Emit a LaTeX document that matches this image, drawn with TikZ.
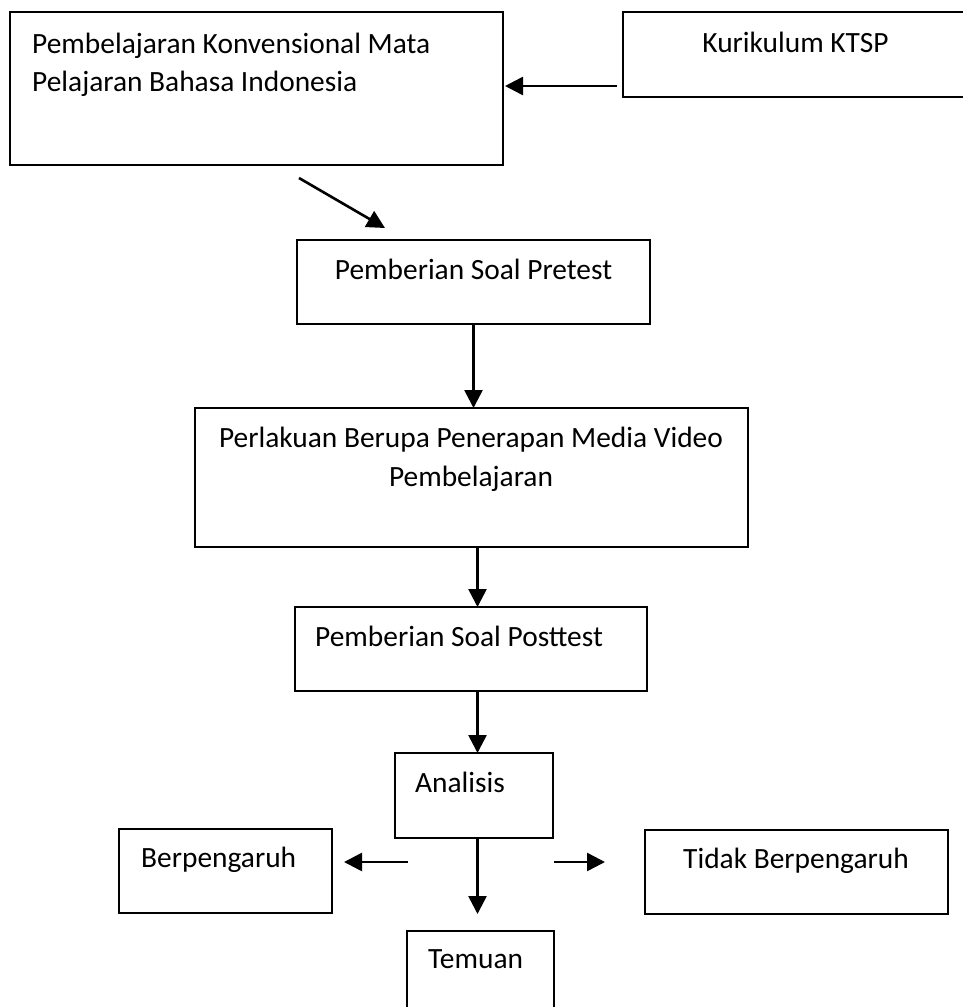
\documentclass[tikz,border=0pt]{standalone}
\usepackage{fontspec}
\setmainfont{Carlito}
\usetikzlibrary{arrows.meta,calc}
\begin{document}
\begin{tikzpicture}[x=1pt,y=-1pt,
  box/.style={draw, line width=1.7pt, rectangle, inner sep=0pt, outer sep=0pt, anchor=north west},
  lbl/.style={inner sep=0pt, font=\fontsize{29.4}{38.5}\selectfont},
  arr/.style={line width=2.6pt, -{Triangle[length=18pt,width=18pt]}}]
\useasboundingbox (0,0) rectangle (963,1007);
% boxes
\node[box, minimum width=493pt, minimum height=153pt] (b1) at (10,12) {};
\node[box, minimum width=345pt, minimum height=85pt] (b2) at (623,12) {};
\node[box, minimum width=353pt, minimum height=84pt] (b3) at (297,240) {};
\node[box, minimum width=553pt, minimum height=139pt] (b4) at (195,408) {};
\node[box, minimum width=352pt, minimum height=84pt] (b5) at (295,607) {};
\node[box, minimum width=158pt, minimum height=85pt] (b6) at (395,753) {};
\node[box, minimum width=213pt, minimum height=84pt] (b7) at (119,829) {};
\node[box, minimum width=303pt, minimum height=84pt] (b8) at (645,830) {};
\node[box, minimum width=147pt, minimum height=100pt] (b9) at (407,931) {};
% texts
\node[lbl, anchor=base west] (t1a) at (32,53) {Pembelajaran Konvensional Mata};
\node[lbl, anchor=base west] (t1b) at (32,91) {Pelajaran Bahasa Indonesia};
\node[lbl, anchor=base] (t2) at (795.5,52) {Kurikulum KTSP};
\node[lbl, anchor=base] (t3) at (473.5,279) {Pemberian Soal Pretest};
\node[lbl, anchor=base] (t4a) at (471,447) {Perlakuan Berupa Penerapan Media Video};
\node[lbl, anchor=base] (t4b) at (471,486) {Pembelajaran};
\node[lbl, anchor=base west] (t5) at (315,646) {Pemberian Soal Posttest};
\node[lbl, anchor=base west] (t6) at (415,792) {Analisis};
\node[lbl, anchor=base west] (t7) at (141,867) {Berpengaruh};
\node[lbl, anchor=base west] (t8) at (683,868) {Tidak Berpengaruh};
\node[lbl, anchor=base west] (t9) at (428,968) {Temuan};
% connectors
\coordinate (k) at ([xshift=-6pt,yshift=11pt]b2.south west);
\draw[arr] (k) -- ([xshift=2pt]k -| b1.east);
\coordinate (ds) at ([xshift=289pt,yshift=-13pt]b1.south west);
\coordinate (de) at ([xshift=88pt,yshift=12pt]b3.north west);
\draw[arr] (ds) -- (de);
\draw[arr] (b3.south) -- (b3.south |- b4.north);
\coordinate (p1) at ([xshift=6pt]b4.south);
\draw[arr] (p1) -- (p1 |- b5.north);
\coordinate (p2) at ([xshift=6.5pt]b5.south);
\draw[arr] (p2) -- (p2 |- b6.north);
\coordinate (p3) at ([xshift=3.5pt]b6.south);
\coordinate (p3e) at ([yshift=17pt]p3 |- b9.north);
\draw[arr] (p3) -- (p3e);
\coordinate (la) at (408,862);
\coordinate (lb) at ([xshift=12pt]la -| b7.east);
\draw[arr] (la) -- (lb);
\coordinate (ra) at (554,862);
\coordinate (rb) at ([xshift=-40pt]ra -| b8.west);
\draw[arr] (ra) -- (rb);
\end{tikzpicture}
\end{document}
